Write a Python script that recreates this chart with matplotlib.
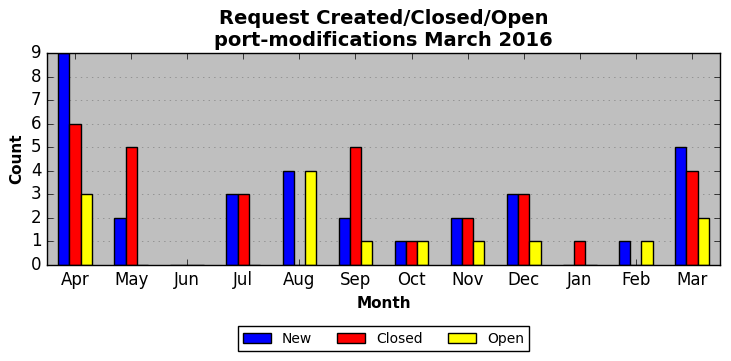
import numpy as np
import matplotlib
matplotlib.use("Agg")
import matplotlib.pyplot as plt

months = ["Apr", "May", "Jun", "Jul", "Aug", "Sep", "Oct", "Nov", "Dec", "Jan", "Feb", "Mar"]
new_counts = [9, 2, 0, 3, 4, 2, 1, 2, 3, 0, 1, 5]
closed_counts = [6, 5, 0, 3, 0, 5, 1, 2, 3, 1, 0, 4]
open_counts = [3, 0, 0, 0, 4, 1, 1, 1, 1, 0, 1, 2]

plt.style.use("classic")
plt.rcParams["font.family"] = "DejaVu Sans"

fig = plt.figure(figsize=(7.31, 3.61), dpi=100, facecolor="white")
ax = fig.add_axes([47 / 731, 1 - 265 / 361, 673 / 731, 212 / 361])
ax.set_facecolor("#bfbfbf")

x = np.arange(len(months))
w = 0.2
ax.bar(x - w, new_counts, w, color="blue", edgecolor="black", label="New")
ax.bar(x, closed_counts, w, color="red", edgecolor="black", label="Closed")
ax.bar(x + w, open_counts, w, color="yellow", edgecolor="black", label="Open")

ax.set_xlim(-0.5, 11.5)
ax.set_ylim(0, 9)
ax.set_yticks(range(0, 10))
ax.set_xticks(x)
ax.set_xticklabels(months)
ax.tick_params(labelsize=12)
ax.yaxis.grid(True, linestyle=":", color="gray")
ax.set_axisbelow(True)

ax.set_xlabel("Month", fontsize=11, fontweight="bold")
ax.set_ylabel("Count", fontsize=11, fontweight="bold")
ax.set_title("Request Created/Closed/Open\nport-modifications March 2016",
             fontsize=14, fontweight="bold")

ax.legend(loc="upper center", bbox_to_anchor=(0.5, -0.255), ncol=3,
          fontsize=10, fancybox=False, frameon=True, columnspacing=1.8)

fig.savefig("out.png", dpi=100, facecolor="white")
